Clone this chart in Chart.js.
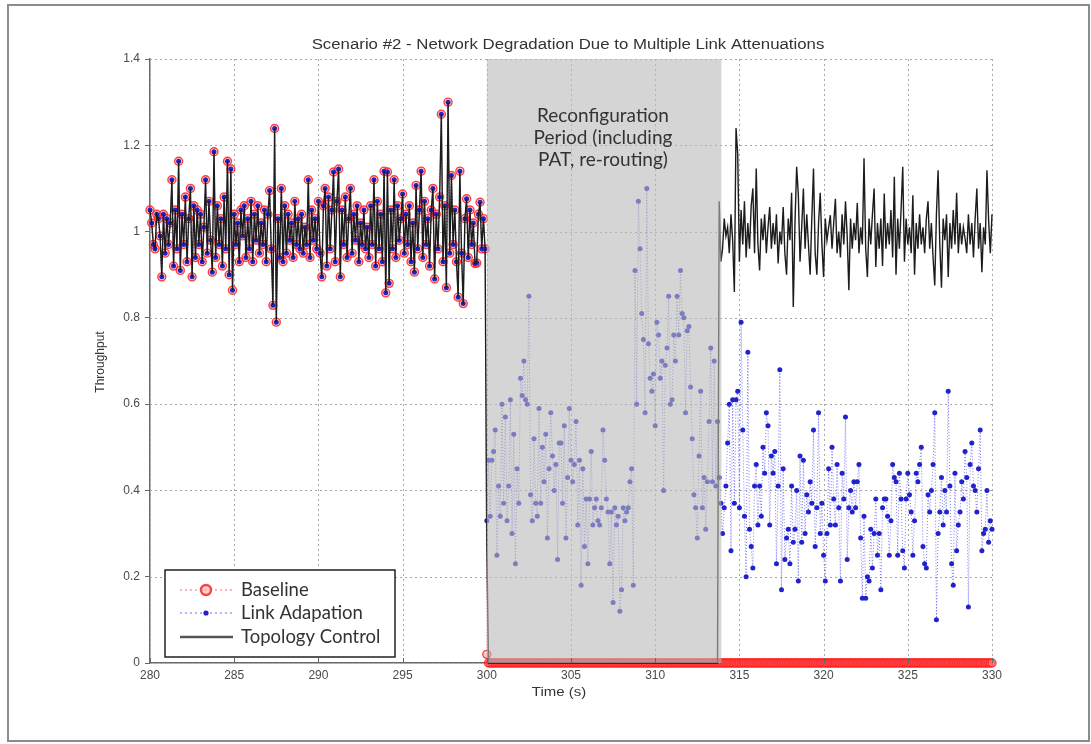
<!DOCTYPE html>
<html>
<head>
<meta charset="utf-8">
<script src="https://cdn.jsdelivr.net/npm/chart.js@4.4.1/dist/chart.umd.min.js"></script>
<style>
  html, body { margin: 0; padding: 0; background: #fff; }
  canvas { display: block; }
</style>
</head>
<body>
<canvas id="c" width="1091" height="744"></canvas>
<script>
// ---------------- DATA ----------------
const chartTitle = 'Scenario #2 - Network Degradation Due to Multiple Link Attenuations';
const xTitle = 'Time (s)';
const yTitle = 'Throughput';
const xTickLabels = ['280','285','290','295','300','305','310','315','320','325','330'];
const yTickLabels = ['0','0.2','0.4','0.6','0.8','1','1.2','1.4'];
const seriesNames = ['Baseline', 'Link Adapation', 'Topology Control'];
const annotationLines = ['Reconfiguration', 'Period (including', 'PAT, re-routing)'];
const reconfigStart = 300, reconfigEnd = 313.93;

// 280.0 .. 299.9 s : all three schemes identical
const normalPhase = [
  1.05,1.02,0.97,0.96,1.04,1.03,0.99,0.895,1.04,0.95,
  1.03,0.97,1.02,1.12,0.92,1.05,0.96,1.163,0.91,1.04,
  0.97,1.08,0.93,1.03,1.10,0.895,1.06,0.94,1.05,0.97,
  1.04,0.93,1.01,1.12,0.95,1.07,0.98,0.906,1.185,0.94,
  1.06,0.97,1.03,0.92,1.08,0.96,1.163,0.90,1.145,0.864,
  1.04,0.97,1.02,0.93,1.05,0.99,1.06,0.94,1.03,0.96,
  1.07,0.93,1.04,0.98,1.06,0.95,1.02,0.97,1.05,0.93,
  1.04,1.095,0.96,0.829,1.239,0.79,1.03,0.94,1.10,0.93,
  1.06,0.95,1.04,0.98,1.02,0.94,1.07,0.97,1.03,0.96,
  1.04,0.95,1.01,0.97,1.12,0.94,1.05,0.98,1.03,0.96,
  1.07,0.95,0.895,1.06,1.10,0.92,1.08,0.96,1.05,1.138,
  0.93,1.07,1.145,0.895,1.05,0.97,1.08,0.94,1.03,1.10,
  0.95,1.04,0.98,1.06,0.93,1.02,0.97,1.05,0.96,1.01,
  0.94,1.06,0.97,1.12,0.92,1.07,0.96,1.04,0.93,1.14,
  0.858,1.138,0.88,1.05,0.96,1.12,0.94,1.06,0.98,1.03,
  1.087,0.95,1.04,0.97,1.06,0.93,1.02,0.906,1.107,0.96,
  1.05,1.14,0.94,1.07,0.97,1.03,0.92,1.05,1.10,0.89,
  1.04,0.96,1.08,1.272,0.93,1.06,0.87,1.30,0.95,1.13,
  0.97,1.05,0.93,0.848,1.14,0.95,0.833,1.03,1.076,0.94,
  1.05,0.97,1.02,0.926,0.927,1.04,1.068,0.96,1.03,0.96
];

// Link Adaptation 300.0 .. 313.9 s
const laReconfig = [
  0.33,0.47,0.34,0.47,0.49,0.54,0.25,0.41,0.34,0.60,
  0.37,0.57,0.33,0.41,0.61,0.30,0.53,0.23,0.45,0.37,
  0.66,0.62,0.70,0.61,0.60,0.85,0.39,0.33,0.52,0.37,
  0.34,0.59,0.37,0.50,0.42,0.53,0.29,0.45,0.58,0.48,
  0.40,0.46,0.24,0.51,0.51,0.37,0.55,0.29,0.43,0.59,
  0.47,0.42,0.46,0.56,0.32,0.47,0.18,0.45,0.27,0.38,
  0.23,0.38,0.49,0.32,0.36,0.38,0.33,0.32,0.36,0.54,
  0.47,0.38,0.35,0.23,0.35,0.14,0.36,0.32,0.34,0.12,
  0.17,0.36,0.33,0.35,0.36,0.42,0.45,0.18,0.91,0.60,
  1.07,0.96,0.81,0.75,0.58,1.10,0.74,0.66,0.63,0.67,
  0.55,0.79,0.76,0.66,0.70,0.40,0.69,0.73,0.85,0.60,
  0.61,0.76,0.70,0.85,0.76,0.91,0.81,0.80,0.58,0.77,
  0.78,0.64,0.52,0.39,0.36,0.29,0.48,0.63,0.36,0.43,
  0.31,0.42,0.56,0.73,0.42,0.70,0.41,0.56,0.43,0.37
];

// Link Adaptation 314.0 .. 330.0 s
const laAfter = [
  0.30,0.36,0.41,0.51,0.60,0.26,0.61,0.37,0.61,0.63,
  0.36,0.79,0.54,0.34,0.20,0.72,0.31,0.27,0.22,0.41,
  0.46,0.32,0.41,0.34,0.50,0.44,0.58,0.55,0.32,0.48,
  0.44,0.49,0.23,0.41,0.68,0.17,0.45,0.24,0.29,0.31,
  0.23,0.41,0.28,0.31,0.40,0.19,0.48,0.28,0.47,0.30,
  0.39,0.35,0.42,0.37,0.54,0.27,0.36,0.58,0.30,0.37,
  0.25,0.19,0.30,0.45,0.32,0.50,0.38,0.32,0.46,0.36,
  0.19,0.44,0.38,0.57,0.24,0.36,0.40,0.35,0.42,0.36,
  0.42,0.46,0.29,0.15,0.34,0.15,0.20,0.19,0.31,0.22,
  0.30,0.38,0.25,0.30,0.17,0.36,0.38,0.38,0.34,0.25,
  0.33,0.46,0.43,0.42,0.25,0.44,0.38,0.26,0.22,0.38,
  0.44,0.39,0.35,0.25,0.33,0.44,0.42,0.46,0.50,0.27,
  0.23,0.22,0.39,0.35,0.40,0.46,0.58,0.10,0.30,0.35,
  0.43,0.32,0.40,0.35,0.63,0.41,0.23,0.18,0.44,0.26,
  0.32,0.35,0.42,0.38,0.49,0.43,0.13,0.46,0.51,0.41,
  0.40,0.35,0.45,0.54,0.26,0.30,0.31,0.40,0.28,0.33,
  0.31
];

// Baseline: first sample after 300 s, then zero throughput up to 330 s
const baselineDrop = [0.02];
const baselineAfter = new Array(300).fill(0);   // 300.1 .. 330.0 s, read as 0

// Topology Control: drop at 300 s, off (0) during reconfiguration, back at 313.8 s
const tcDrop = [0.27];
const tcOff = new Array(137).fill(0);           // 300.1 .. 313.7 s, read as 0
const tcAfter = [
  1.07,0.93,0.96,1.03,0.99,1.01,0.95,1.04,0.98,0.86,
  1.24,1.18,0.93,1.05,0.97,1.07,0.94,1.02,0.96,1.06,
  1.10,0.95,1.146,0.97,0.91,1.03,0.98,1.04,0.95,1.01,
  1.057,0.96,1.02,0.97,1.04,0.926,1.00,0.97,1.057,0.95,
  0.90,1.03,0.98,1.09,0.825,1.02,1.15,1.084,0.93,1.01,
  1.10,0.96,1.04,0.97,0.90,1.03,1.146,0.95,0.90,1.02,
  1.09,0.97,0.895,1.03,0.98,1.01,1.038,0.96,1.02,1.076,
  0.95,1.00,0.94,1.04,0.97,1.07,0.99,0.864,1.03,0.96,
  1.02,0.98,1.066,0.95,1.01,0.97,1.17,0.96,0.895,1.03,
  0.97,1.04,1.10,0.918,1.02,0.96,1.03,0.92,1.088,0.96,
  1.02,0.97,1.05,0.94,1.127,0.90,1.03,0.96,1.05,1.15,
  0.93,1.03,0.97,1.01,0.95,1.084,0.90,1.02,0.96,1.04,
  0.97,1.01,0.95,1.03,1.07,0.96,1.02,0.94,0.875,1.04,
  1.142,0.97,0.87,1.03,0.98,1.04,0.895,1.02,0.96,1.05,
  0.97,1.09,0.95,1.02,0.97,1.01,0.984,0.95,1.04,0.97,
  1.02,0.94,1.03,1.10,0.96,1.02,0.906,1.01,0.97,1.142,
  1.026,0.95,1.04
];

// ---------------- BUILD ----------------
function series(start, values) {
  const s10 = Math.round(start * 10);
  return values.map((v, i) => ({ x: (s10 + i) / 10, y: v }));
}
const baselineData = series(280, normalPhase).concat(series(300, baselineDrop), series(300.1, baselineAfter));
const laData = series(280, normalPhase).concat(series(300, laReconfig), series(314, laAfter));
const tcData = series(280, normalPhase).concat(series(300, tcDrop), series(300.1, tcOff), series(313.8, tcAfter));

Chart.defaults.font.family = "'Liberation Sans', Arial, sans-serif";
Chart.defaults.font.size = 12;
Chart.defaults.color = '#4a4a4a';

const decor = {
  id: 'decor',
  beforeDraw(chart) {
    const ctx = chart.ctx;
    ctx.save();
    ctx.fillStyle = '#fff';
    ctx.fillRect(0, 0, chart.width, chart.height);
    ctx.strokeStyle = '#8c8c8c';
    ctx.lineWidth = 2;
    ctx.strokeRect(8, 5, 1081, 736);
    ctx.restore();
  },
  beforeDatasetsDraw(chart) {
    // dotted grid (MATLAB style)
    const ctx = chart.ctx, xs = chart.scales.x, ys = chart.scales.y, a = chart.chartArea;
    ctx.save();
    ctx.strokeStyle = '#a8a8a8';
    ctx.lineWidth = 1;
    ctx.setLineDash([2, 3]);
    xTickLabels.forEach((l) => {
      const px = Math.round(xs.getPixelForValue(+l)) + 0.5;
      ctx.beginPath(); ctx.moveTo(px, a.top); ctx.lineTo(px, a.bottom); ctx.stroke();
    });
    yTickLabels.forEach((l) => {
      const py = Math.round(ys.getPixelForValue(+l)) + 0.5;
      ctx.beginPath(); ctx.moveTo(a.left, py); ctx.lineTo(a.right, py); ctx.stroke();
    });
    ctx.restore();
  },
  afterDatasetsDraw(chart) {
    const ctx = chart.ctx, xs = chart.scales.x, ys = chart.scales.y;
    const x0 = xs.getPixelForValue(reconfigStart), x1 = xs.getPixelForValue(reconfigEnd);
    const yTop = ys.getPixelForValue(1.4), yBot = ys.getPixelForValue(0);
    ctx.save();
    ctx.fillStyle = 'rgba(185,185,185,0.6)';
    ctx.fillRect(x0, yTop, x1 - x0, yBot - yTop);
    ctx.fillStyle = '#333';
    ctx.font = "19px Lato, 'Open Sans', sans-serif";
    ctx.textAlign = 'center';
    ctx.textBaseline = 'middle';
    const cx = xs.getPixelForValue(306.9);
    annotationLines.forEach((t, i) => ctx.fillText(t, cx, 116 + i * 22));
    ctx.restore();
  },
  afterDraw(chart) {
    const ctx = chart.ctx, xs = chart.scales.x, a = chart.chartArea;
    ctx.save();
    // inward x ticks
    ctx.strokeStyle = '#666';
    ctx.lineWidth = 1;
    xTickLabels.forEach((l) => {
      const px = Math.round(xs.getPixelForValue(+l)) + 0.5;
      ctx.beginPath(); ctx.moveTo(px, a.bottom); ctx.lineTo(px, a.bottom - 5); ctx.stroke();
    });
    // titles
    ctx.fillStyle = '#333';
    ctx.textAlign = 'center';
    ctx.textBaseline = 'middle';
    ctx.save();
    ctx.translate(568, 45);
    ctx.scale(1.2, 1);
    ctx.font = "14px 'Liberation Sans', Arial, sans-serif";
    ctx.fillText(chartTitle, 0, 0);
    ctx.restore();
    ctx.save();
    ctx.translate(559, 692);
    ctx.scale(1.15, 1);
    ctx.font = "13px 'Liberation Sans', Arial, sans-serif";
    ctx.fillText(xTitle, 0, 0);
    ctx.restore();
    ctx.save();
    ctx.translate(101, 362);
    ctx.rotate(-Math.PI / 2);
    ctx.font = "12px 'Liberation Sans', Arial, sans-serif";
    ctx.fillText(yTitle, 0, 0);
    ctx.restore();
    // legend
    const lx = 165, ly = 570, lw = 230, lh = 87;
    ctx.fillStyle = '#fff';
    ctx.fillRect(lx, ly, lw, lh);
    ctx.strokeStyle = '#222';
    ctx.lineWidth = 1.5;
    ctx.strokeRect(lx, ly, lw, lh);
    const rows = [590, 613, 637];
    ctx.setLineDash([2, 3]);
    ctx.lineWidth = 1.5;
    ctx.strokeStyle = '#f3a0a0';
    ctx.beginPath(); ctx.moveTo(180, rows[0]); ctx.lineTo(233, rows[0]); ctx.stroke();
    ctx.strokeStyle = '#a0a0f0';
    ctx.beginPath(); ctx.moveTo(180, rows[1]); ctx.lineTo(233, rows[1]); ctx.stroke();
    ctx.setLineDash([]);
    ctx.fillStyle = 'rgba(255,160,160,0.5)';
    ctx.beginPath(); ctx.arc(206, rows[0], 5, 0, Math.PI * 2); ctx.fill();
    ctx.strokeStyle = '#f04848';
    ctx.lineWidth = 2.5;
    ctx.beginPath(); ctx.arc(206, rows[0], 5, 0, Math.PI * 2); ctx.stroke();
    ctx.fillStyle = '#2020cc';
    ctx.beginPath(); ctx.arc(206, rows[1], 2.6, 0, Math.PI * 2); ctx.fill();
    ctx.strokeStyle = '#555';
    ctx.lineWidth = 2.5;
    ctx.beginPath(); ctx.moveTo(180, rows[2]); ctx.lineTo(233, rows[2]); ctx.stroke();
    ctx.fillStyle = '#333';
    ctx.textAlign = 'left';
    ctx.font = "18.5px Lato, 'Open Sans', sans-serif";
    seriesNames.forEach((n, i) => ctx.fillText(n, 241, rows[i]));
    ctx.restore();
  }
};

new Chart(document.getElementById('c'), {
  type: 'line',
  data: {
    datasets: [
      {
        label: seriesNames[0], data: baselineData, order: 2, clip: 10,
        borderColor: 'rgba(255,90,90,0.7)', borderWidth: 1, borderDash: [1, 2],
        pointRadius: 4, pointBorderWidth: 1.4, pointBorderColor: 'rgba(255,30,30,0.85)',
        pointBackgroundColor: 'rgba(255,120,120,0.35)', tension: 0
      },
      {
        label: seriesNames[1], data: laData, order: 1, clip: 10,
        borderColor: 'rgba(80,80,235,0.75)', borderWidth: 1, borderDash: [1, 2],
        pointRadius: 2.5, pointBorderWidth: 0, pointBackgroundColor: '#2222cc', tension: 0
      },
      {
        label: seriesNames[2], data: tcData, order: 0, clip: 10,
        borderColor: '#1c1c1c', borderWidth: 1.4, pointRadius: 0, tension: 0
      }
    ]
  },
  options: {
    responsive: false,
    animation: false,
    devicePixelRatio: 1,
    events: [],
    layout: { padding: { left: 0, right: 99, top: 59, bottom: 41 } },
    plugins: { legend: { display: false }, tooltip: { enabled: false }, title: { display: false } },
    scales: {
      x: {
        type: 'linear', min: 280, max: 330,
        afterFit: (s) => { s.height = 40; },
        grid: { drawOnChartArea: false, drawTicks: false },
        border: { color: '#6a6a6a', width: 1.5 },
        ticks: {
          stepSize: 5, autoSkip: false, maxRotation: 0, padding: 5,
          callback: (v) => xTickLabels[Math.round((v - 280) / 5)]
        }
      },
      y: {
        min: 0, max: 1.4,
        afterFit: (s) => { s.width = 150; },
        grid: { drawOnChartArea: false, drawTicks: true, tickLength: 5, tickColor: '#666' },
        border: { color: '#6a6a6a', width: 1.5 },
        ticks: {
          stepSize: 0.2, padding: 5,
          callback: (v) => yTickLabels[Math.round(v / 0.2)]
        }
      }
    }
  },
  plugins: [decor]
});
</script>
</body>
</html>
